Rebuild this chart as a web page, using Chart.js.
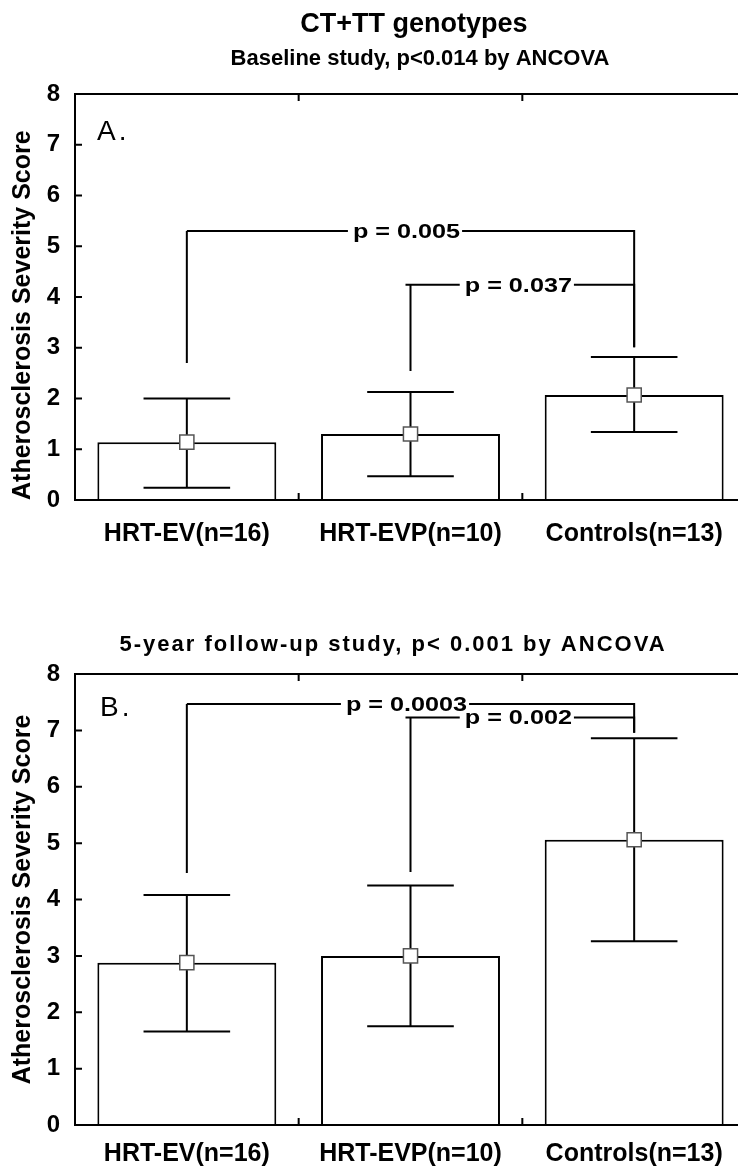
<!DOCTYPE html>
<html>
<head>
<meta charset="utf-8">
<script src="https://cdn.jsdelivr.net/npm/chart.js@4.4.1/dist/chart.umd.min.js"></script>
<style>
  html, body { margin: 0; padding: 0; background: #fff; overflow: hidden; }
  .panel { position: absolute; left: 0; width: 760px; }
  #boxA { top: 0; height: 560px; }
  #boxB { top: 560px; height: 613px; }
</style>
</head>
<body>
<div class="panel" id="boxA"><canvas id="chartA"></canvas></div>
<div class="panel" id="boxB"><canvas id="chartB"></canvas></div>
<script>
// groups and axis
const groups = ['HRT-EV(n=16)', 'HRT-EVP(n=10)', 'Controls(n=13)'];
const yTicks = [0, 1, 2, 3, 4, 5, 6, 7, 8];

// A. baseline study
const meanA = [1.14, 1.30, 2.07];
const lowA = [0.24, 0.47, 1.34];
const highA = [2.00, 2.13, 2.82];
const pairsA = [[0, 2], [1, 2]];
const pTextA = ['p = 0.005', 'p = 0.037'];
const pLevelA = [5.30, 4.24];
const pFeetA = [[2.70, 3.01], [2.54, 3.01]];

// B. 5-year follow-up
const meanB = [2.88, 3.00, 5.06];
const lowB = [1.66, 1.75, 3.26];
const highB = [4.08, 4.25, 6.86];
const pairsB = [[0, 2], [1, 2]];
const pTextB = ['p = 0.0003', 'p = 0.002'];
const pLevelB = [7.47, 7.23];
const pFeetB = [[4.47, 6.96], [4.49, 6.96]];

const FONT = "'Liberation Sans', Arial, sans-serif";
Chart.defaults.font.family = FONT;
Chart.defaults.color = '#000';

// per-panel extras drawn by the plugin
const panels = {
  chartA: {
    low: lowA, high: highA, pairs: pairsA, pText: pTextA, pLevel: pLevelA, pFeet: pFeetA,
    title: 'CT+TT genotypes', subtitle: 'Baseline study, p<0.014 by ANCOVA',
    subX: 420, subY: 59, subSpacing: 0, letter: 'A.', letterX: 97, letterY: 140
  },
  chartB: {
    low: lowB, high: highB, pairs: pairsB, pText: pTextB, pLevel: pLevelB, pFeet: pFeetB,
    title: null, subtitle: '5-year follow-up study, p< 0.001 by ANCOVA',
    subX: 393, subY: 85, subSpacing: 2, letter: 'B.', letterX: 100, letterY: 156
  }
};

const decor = {
  id: 'decor',
  afterDatasetDraw(chart, args) {
    if (args.index !== 1) return;
    const p = panels[chart.canvas.id];
    const y = chart.scales.y;
    const bars = args.meta.data;
    const ctx = chart.ctx;
    ctx.save();
    ctx.strokeStyle = '#000';
    ctx.lineWidth = 2;
    p.low.forEach((lo, i) => {
      const cx = bars[i].x, half = bars[i].width * 0.242;
      const y1 = y.getPixelForValue(lo), y2 = y.getPixelForValue(p.high[i]);
      ctx.beginPath();
      ctx.moveTo(cx, y1); ctx.lineTo(cx, y2);
      ctx.moveTo(cx - half, y1); ctx.lineTo(cx + half, y1);
      ctx.moveTo(cx - half, y2); ctx.lineTo(cx + half, y2);
      ctx.stroke();
    });
    ctx.restore();
  },
  afterDraw(chart) {
    const p = panels[chart.canvas.id];
    const {ctx, chartArea: a} = chart;
    const x = chart.scales.x, y = chart.scales.y;
    ctx.save();
    ctx.strokeStyle = '#000';
    ctx.fillStyle = '#000';
    ctx.lineWidth = 2;

    // frame and inward ticks
    ctx.strokeRect(a.left, a.top, a.right - a.left, a.bottom - a.top);
    ctx.beginPath();
    yTicks.forEach(v => {
      const py = y.getPixelForValue(v);
      ctx.moveTo(a.left, py); ctx.lineTo(a.left + 7, py);
    });
    for (let i = 0; i < groups.length - 1; i++) {
      const bx = (x.getPixelForValue(i) + x.getPixelForValue(i + 1)) / 2;
      ctx.moveTo(bx, a.bottom); ctx.lineTo(bx, a.bottom - 7);
      ctx.moveTo(bx, a.top); ctx.lineTo(bx, a.top + 7);
    }
    ctx.stroke();

    // significance brackets
    ctx.font = 'bold 21px ' + FONT;
    ctx.textBaseline = 'middle';
    ctx.textAlign = 'center';
    p.pairs.forEach(([from, to], k) => {
      const x1 = x.getPixelForValue(from), x2 = x.getPixelForValue(to);
      const ly = y.getPixelForValue(p.pLevel[k]);
      const f1 = y.getPixelForValue(p.pFeet[k][0]), f2 = y.getPixelForValue(p.pFeet[k][1]);
      const mid = (x1 + x2) / 2 - 4;
      const w = ctx.measureText(p.pText[k]).width * 1.2;
      const stub = k > 0 ? 5 : 0;
      ctx.beginPath();
      ctx.moveTo(x1, f1); ctx.lineTo(x1, ly);
      ctx.moveTo(x1 - stub, ly); ctx.lineTo(mid - w / 2 - 5, ly);
      ctx.moveTo(mid + w / 2 + 2, ly); ctx.lineTo(x2, ly);
      ctx.lineTo(x2, f2);
      ctx.stroke();
      ctx.save();
      ctx.translate(mid, ly + 1);
      ctx.scale(1.2, 1);
      ctx.fillText(p.pText[k], 0, 0);
      ctx.restore();
    });

    // titles and panel letter
    if (p.title) {
      ctx.font = 'bold 27px ' + FONT;
      ctx.fillText(p.title, 414, 25);
    }
    ctx.font = 'bold 22px ' + FONT;
    ctx.letterSpacing = p.subSpacing + 'px';
    ctx.fillText(p.subtitle, p.subX, p.subY);
    ctx.font = '28px ' + FONT;
    ctx.letterSpacing = '3px';
    ctx.textAlign = 'left';
    ctx.textBaseline = 'alphabetic';
    ctx.fillText(p.letter, p.letterX, p.letterY);
    ctx.restore();
  }
};

function makeChart(id, means, padTop, xHeight, labelPad, titleAlign) {
  return new Chart(document.getElementById(id), {
    type: 'bar',
    data: {
      labels: groups,
      datasets: [
        {
          type: 'line',
          data: means,
          showLine: false,
          pointStyle: 'rect',
          pointRadius: 10,
          pointBackgroundColor: '#fff',
          pointBorderColor: '#555',
          pointBorderWidth: 1.5,
          order: 0
        },
        {
          type: 'bar',
          data: means,
          backgroundColor: '#fff',
          borderColor: '#000',
          borderWidth: 2,
          barPercentage: 0.8,
          categoryPercentage: 1.0,
          order: 1
        }
      ]
    },
    options: {
      responsive: true,
      maintainAspectRatio: false,
      animation: false,
      layout: { padding: { top: padTop, right: 14, left: 0, bottom: 0 } },
      plugins: { legend: { display: false }, tooltip: { enabled: false } },
      scales: {
        x: {
          offset: true,
          grid: { display: false, drawTicks: false },
          border: { display: false },
          ticks: { font: { size: 25, weight: 'bold' }, color: '#000', padding: labelPad, maxRotation: 0, autoSkip: false },
          afterFit: s => { s.height = xHeight; }
        },
        y: {
          min: 0,
          max: 8,
          grid: { display: false, drawTicks: false },
          border: { display: false },
          ticks: { stepSize: 1, font: { size: 24, weight: 'bold' }, color: '#000', padding: 15 },
          title: {
            display: true,
            text: 'Atherosclerosis Severity Score',
            align: titleAlign,
            font: { size: 25, weight: 'bold' },
            color: '#000',
            padding: { top: 8, bottom: 0 }
          },
          afterFit: s => { s.width = 75; }
        }
      }
    },
    plugins: [decor]
  });
}

makeChart('chartA', meanA, 94, 60, 19, 'start');
makeChart('chartB', meanB, 114, 48, 14, 'center');
</script>
</body>
</html>
